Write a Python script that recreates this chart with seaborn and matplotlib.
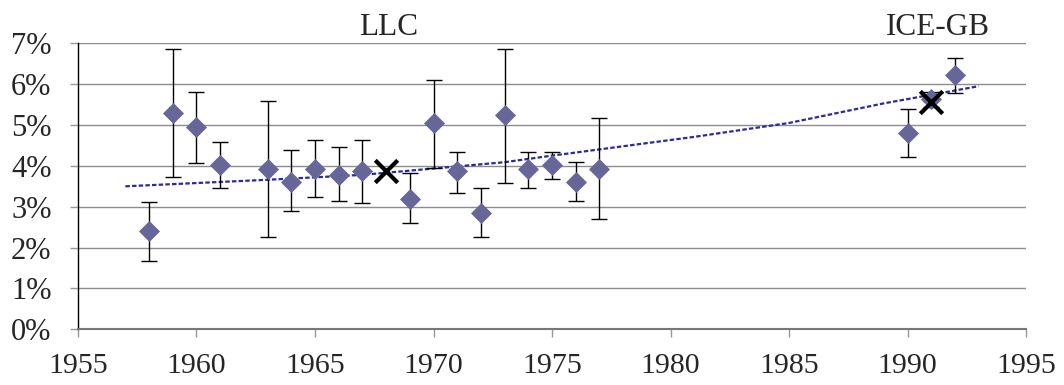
import numpy as np
import pandas as pd
import seaborn as sns
import matplotlib.pyplot as plt
from matplotlib.ticker import PercentFormatter, MultipleLocator

# yearly rates (%) with confidence interval bounds
years = [1958, 1959, 1960, 1961, 1963, 1964, 1965, 1966, 1967, 1969, 1970,
         1971, 1972, 1973, 1974, 1975, 1976, 1977, 1990, 1991, 1992]
rate = [2.41, 5.29, 4.94, 4.02, 3.92, 3.61, 3.92, 3.78, 3.87, 3.18, 5.04,
        3.87, 2.84, 5.24, 3.92, 4.02, 3.61, 3.92, 4.80, 5.63, 6.22]
upper = [3.12, 6.85, 5.82, 4.59, 5.58, 4.40, 4.64, 4.45, 4.64, 3.82, 6.11,
         4.35, 3.47, 6.85, 4.35, 4.35, 4.10, 5.18, 5.38, 5.82, 6.65]
lower = [1.67, 3.72, 4.06, 3.47, 2.25, 2.90, 3.23, 3.13, 3.08, 2.59, 3.96,
         3.33, 2.25, 3.57, 3.47, 3.67, 3.13, 2.69, 4.21, 5.45, 5.78]

# corpus means (crosses)
mean_years = [1968, 1991]
mean_rate = [3.87, 5.57]

# trend line, read at a few points
trend_years = [1957, 1963, 1967, 1973, 1975, 1981, 1985, 1989, 1993]
trend_rate = [3.50, 3.66, 3.78, 4.09, 4.25, 4.71, 5.05, 5.53, 5.95]

corpus_labels = ["LLC", "ICE-GB"]
corpus_label_x = [1968.1, 1991.3]

df = pd.DataFrame({"year": years, "rate": rate, "upper": upper, "lower": lower})
means = pd.DataFrame({"year": mean_years, "rate": mean_rate})
trend = pd.DataFrame({"year": trend_years, "rate": trend_rate})

sns.set_style("white")
plt.rcParams["font.family"] = ["Liberation Serif", "DejaVu Serif"]

fig = plt.figure(figsize=(10.64, 3.85), dpi=100)
ax = fig.add_axes([0.0733, 0.1447, 0.8910, 0.7428])

# grid first
ax.set_axisbelow(True)
ax.yaxis.grid(True, color="#8c8c8c", linewidth=1.0)
ax.xaxis.grid(False)

# trend
sns.lineplot(data=trend, x="year", y="rate", ax=ax, color="#2a2a9c",
             linewidth=1.6, linestyle=(0, (2.0, 1.0)), zorder=2)

# error bars
ax.errorbar(df["year"], df["rate"],
            yerr=[df["rate"] - df["lower"], df["upper"] - df["rate"]],
            fmt="none", ecolor="black", elinewidth=1.0, capsize=5.5,
            capthick=1.0, zorder=3)

# points
sns.scatterplot(data=df, x="year", y="rate", ax=ax, marker="D", s=115,
                color="#666699", linewidth=0, zorder=4)
sns.scatterplot(data=means, x="year", y="rate", ax=ax, marker="x", s=260,
                color="black", linewidth=3, zorder=5)

for lab, xx in zip(corpus_labels, corpus_label_x):
    ax.text(xx, 7.39, lab, ha="center", va="center", fontsize=22.5, clip_on=False)

ax.set_xlim(1955, 1995)
ax.set_ylim(0, 7)
ax.xaxis.set_major_locator(MultipleLocator(5))
ax.yaxis.set_major_locator(MultipleLocator(1))
ax.yaxis.set_major_formatter(PercentFormatter(xmax=100, decimals=0))
ax.set_xlabel("")
ax.set_ylabel("")

for s in ["top", "right"]:
    ax.spines[s].set_visible(False)
ax.spines["left"].set_color("black")
ax.spines["left"].set_linewidth(1.0)
ax.spines["bottom"].set_color("#777777")
ax.spines["bottom"].set_linewidth(1.5)

ax.tick_params(axis="x", direction="out", length=6, width=1.0, color="#999999",
               labelsize=21.5, pad=11, bottom=True)
ax.tick_params(axis="y", direction="out", length=6, width=1.0, color="#999999",
               labelsize=22, pad=13, left=True)
for t in ax.get_yticklabels():
    t.set_verticalalignment("center_baseline")

fig.savefig("out.png", dpi=100)
